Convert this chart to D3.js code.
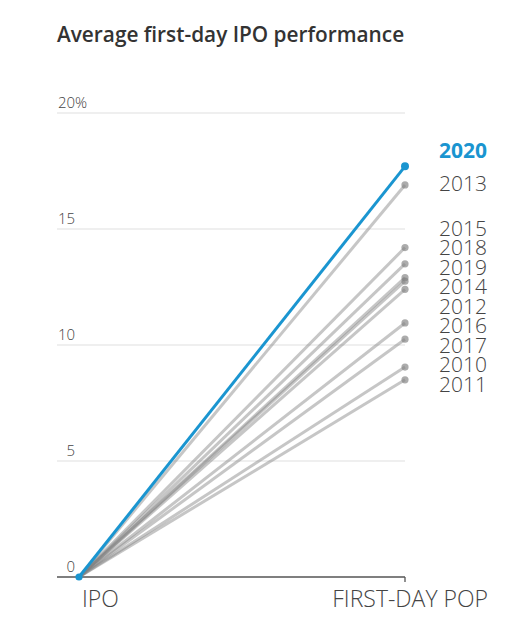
<!DOCTYPE html>
<html>
<head>
<meta charset="utf-8">
<script src="https://cdn.jsdelivr.net/npm/d3@7"></script>
<style>
  html, body { margin: 0; padding: 0; background: #fff; }
  svg { display: block; }
</style>
</head>
<body>
<svg id="chart" width="532" height="631"></svg>
<script>
// ---- data ----
const title = "Average first-day IPO performance";
const stages = ["IPO", "FIRST-DAY POP"];
const years = ["2020", "2013", "2015", "2018", "2019", "2014", "2012", "2016", "2017", "2010", "2011"];
const firstDayPop = [17.7, 16.9, 14.2, 13.5, 12.9, 12.75, 12.4, 10.95, 10.25, 9.05, 8.5];
const ipoStart = [0, 0, 0, 0, 0, 0, 0, 0, 0, 0, 0];
const yTicks = [0, 5, 10, 15, 20];
const highlightYear = "2020";

// ---- layout ----
const svg = d3.select("#chart");
const gridLeft = 57, plotRight = 405;
const x = d3.scalePoint().domain(stages).range([79, plotRight]);
const y = d3.scaleLinear().domain([0, 20]).range([577, 113]);
const blue = "#1a95d0";
const font = "'Open Sans', 'Noto Sans', sans-serif";

// title
svg.append("text")
  .attr("x", gridLeft).attr("y", 42)
  .attr("font-family", font).attr("font-size", 20.8).attr("font-weight", 600)
  .attr("fill", "#333").text(title);

// gridlines
svg.append("g").selectAll("line").data(yTicks.filter(d => d !== 0)).join("line")
  .attr("x1", gridLeft).attr("x2", plotRight)
  .attr("y1", d => y(d)).attr("y2", d => y(d))
  .attr("stroke", "#e0e0e0").attr("stroke-width", 1.2);

// tick labels (number right-aligned, % hangs outside)
const tl = svg.append("g").attr("font-family", font).attr("font-size", 15)
  .attr("font-weight", 300).attr("fill", "#444");
tl.selectAll("text.num").data(yTicks).join("text").attr("class", "num")
  .attr("x", 75).attr("y", d => y(d) - 5).attr("text-anchor", "end").text(d => d);
tl.append("text").attr("x", 75).attr("y", y(20) - 5).text("%");

// baseline
svg.append("line").attr("x1", gridLeft).attr("x2", plotRight)
  .attr("y1", y(0)).attr("y2", y(0)).attr("stroke", "#555").attr("stroke-width", 1.3);
svg.append("line").attr("x1", plotRight).attr("x2", plotRight)
  .attr("y1", y(0)).attr("y2", y(0) + 5).attr("stroke", "#555").attr("stroke-width", 1.3);

// x labels
svg.append("text").attr("x", x(stages[0]) + 3).attr("y", 607)
  .attr("font-family", font).attr("font-size", 23).attr("font-weight", 300)
  .attr("fill", "#444").text(stages[0]);
svg.append("text").attr("x", x(stages[1]) + 83).attr("y", 607).attr("text-anchor", "end")
  .attr("font-family", font).attr("font-size", 23).attr("font-weight", 300)
  .attr("fill", "#444").text(stages[1]);

// series
const series = years.map((yr, i) => ({ year: yr, values: [ipoStart[i], firstDayPop[i]] }));
const line = d3.line().x((d, i) => x(stages[i])).y(d => y(d));
const grey = series.filter(s => s.year !== highlightYear);
const hi = series.filter(s => s.year === highlightYear);

const gl = svg.append("g");
gl.selectAll("path").data(grey).join("path")
  .attr("d", s => line(s.values)).attr("fill", "none")
  .attr("stroke", "#808080").attr("stroke-opacity", 0.45).attr("stroke-width", 3);
gl.selectAll("circle").data(grey).join("circle")
  .attr("cx", x(stages[1])).attr("cy", s => y(s.values[1])).attr("r", 3.6)
  .attr("fill", "#808080").attr("fill-opacity", 0.65);

const hl = svg.append("g");
hl.selectAll("path").data(hi).join("path")
  .attr("d", s => line(s.values)).attr("fill", "none")
  .attr("stroke", blue).attr("stroke-width", 3);
hl.selectAll("circle.end").data(hi).join("circle").attr("class", "end")
  .attr("cx", x(stages[1])).attr("cy", s => y(s.values[1])).attr("r", 4).attr("fill", blue);
hl.selectAll("circle.start").data(hi).join("circle").attr("class", "start")
  .attr("cx", x(stages[0])).attr("cy", s => y(s.values[0])).attr("r", 3.6).attr("fill", blue);

// label dodge (cluster-centering)
function dodge(items, gap) {
  let clusters = items.slice().sort((a, b) => a.y - b.y)
    .map(d => ({ items: [d], center: d.y }));
  let changed = true;
  const top = c => c.center - (c.items.length - 1) * gap / 2;
  const bot = c => c.center + (c.items.length - 1) * gap / 2;
  while (changed) {
    changed = false;
    for (let i = 0; i < clusters.length - 1; i++) {
      const a = clusters[i], b = clusters[i + 1];
      if (top(b) - bot(a) < gap) {
        const its = a.items.concat(b.items);
        a.items = its;
        a.center = d3.mean(its, d => d.y);
        clusters.splice(i + 1, 1);
        changed = true;
        break;
      }
    }
  }
  clusters.forEach(c => c.items.forEach((d, k) => { d.ly = top(c) + k * gap; }));
  return items;
}
const labelItems = grey.map(s => ({ year: s.year, y: y(s.values[1]) }));
dodge(labelItems, 19.5);

const lab = svg.append("g").attr("font-family", font).attr("font-size", 21);
lab.selectAll("text.g").data(labelItems).join("text").attr("class", "g")
  .attr("x", 439).attr("y", d => d.ly).attr("dy", "0.3em")
  .attr("font-weight", 300).attr("fill", "#444").text(d => d.year);
lab.selectAll("text.h").data(hi).join("text").attr("class", "h")
  .attr("x", 439).attr("y", s => y(s.values[1]) - 16).attr("dy", "0.36em")
  .attr("font-weight", 700).attr("fill", blue).text(s => s.year);
</script>
</body>
</html>
